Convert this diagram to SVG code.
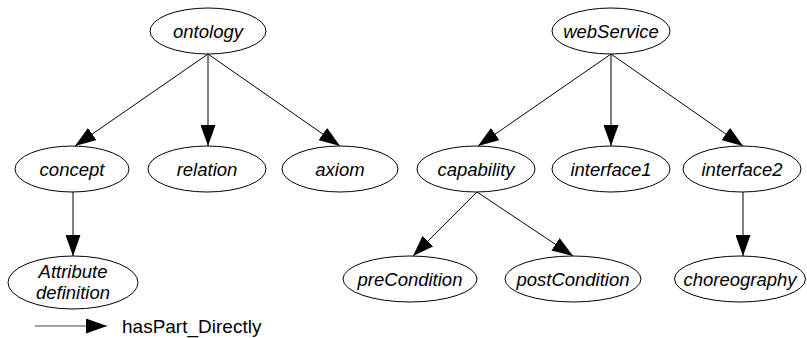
<svg xmlns="http://www.w3.org/2000/svg" width="807" height="338" viewBox="0 0 807 338">
<style>
.n ellipse{fill:#fff;stroke:#000;stroke-width:1}
.n text{font-family:"Liberation Sans",Arial,sans-serif;font-style:italic;font-size:18.5px;text-anchor:middle;fill:#000}
.e line{stroke:#000;stroke-width:1;marker-end:url(#ah)}
.lg{font-family:"Liberation Sans",Arial,sans-serif;font-size:19px;fill:#000}
</style>
<defs>
<marker id="ah" markerUnits="userSpaceOnUse" markerWidth="21" markerHeight="15" refX="21" refY="7.5" orient="auto">
<path d="M0,0 L21,7.5 L0,15 z" fill="#000"/>
</marker>
</defs>
<rect width="807" height="338" fill="#fff"/>
<g id="edges" class="e">
<line x1="208" y1="54" x2="75" y2="146"/>
<line x1="208" y1="54" x2="208" y2="146"/>
<line x1="208" y1="54" x2="340" y2="146"/>
<line x1="73" y1="192" x2="73" y2="256"/>
<line x1="611" y1="54" x2="478" y2="146"/>
<line x1="611" y1="54" x2="611" y2="146"/>
<line x1="611" y1="54" x2="743" y2="146"/>
<line x1="477" y1="192" x2="413" y2="256"/>
<line x1="477" y1="192" x2="573" y2="256"/>
<line x1="743" y1="192" x2="743" y2="256"/>
</g>
<g id="ontology" class="n"><ellipse cx="208" cy="31" rx="58" ry="23"/><text x="208" y="37.5">ontology</text></g>
<g id="concept" class="n"><ellipse cx="72" cy="169" rx="57" ry="23"/><text x="72" y="175.5">concept</text></g>
<g id="relation" class="n"><ellipse cx="207" cy="169" rx="59" ry="23"/><text x="207" y="175.5">relation</text></g>
<g id="axiom" class="n"><ellipse cx="340" cy="169" rx="58" ry="23"/><text x="340" y="175.5">axiom</text></g>
<g id="attribute" class="n"><ellipse cx="73" cy="282.5" rx="65" ry="26.5"/><text x="73" y="278">Attribute</text><text x="73" y="299">definition</text></g>
<g id="webService" class="n"><ellipse cx="611" cy="31" rx="59" ry="23"/><text x="611" y="37.5">webService</text></g>
<g id="capability" class="n"><ellipse cx="476" cy="169" rx="59" ry="23"/><text x="476" y="175.5">capability</text></g>
<g id="interface1" class="n"><ellipse cx="611" cy="169" rx="59" ry="23"/><text x="611" y="175.5">interface1</text></g>
<g id="interface2" class="n"><ellipse cx="742" cy="169" rx="59" ry="23"/><text x="742" y="175.5">interface2</text></g>
<g id="preCondition" class="n"><ellipse cx="410" cy="279" rx="67" ry="23"/><text x="410" y="285.5">preCondition</text></g>
<g id="postCondition" class="n"><ellipse cx="573" cy="279" rx="68" ry="23"/><text x="573" y="285.5">postCondition</text></g>
<g id="choreography" class="n"><ellipse cx="740" cy="279" rx="65.5" ry="23"/><text x="740" y="285.5">choreography</text></g>
<g id="legend">
<line x1="35" y1="326" x2="107" y2="326" stroke="#444" stroke-width="1" marker-end="url(#ah)"/>
<text class="lg" x="122" y="333">hasPart_Directly</text>
</g>
</svg>
